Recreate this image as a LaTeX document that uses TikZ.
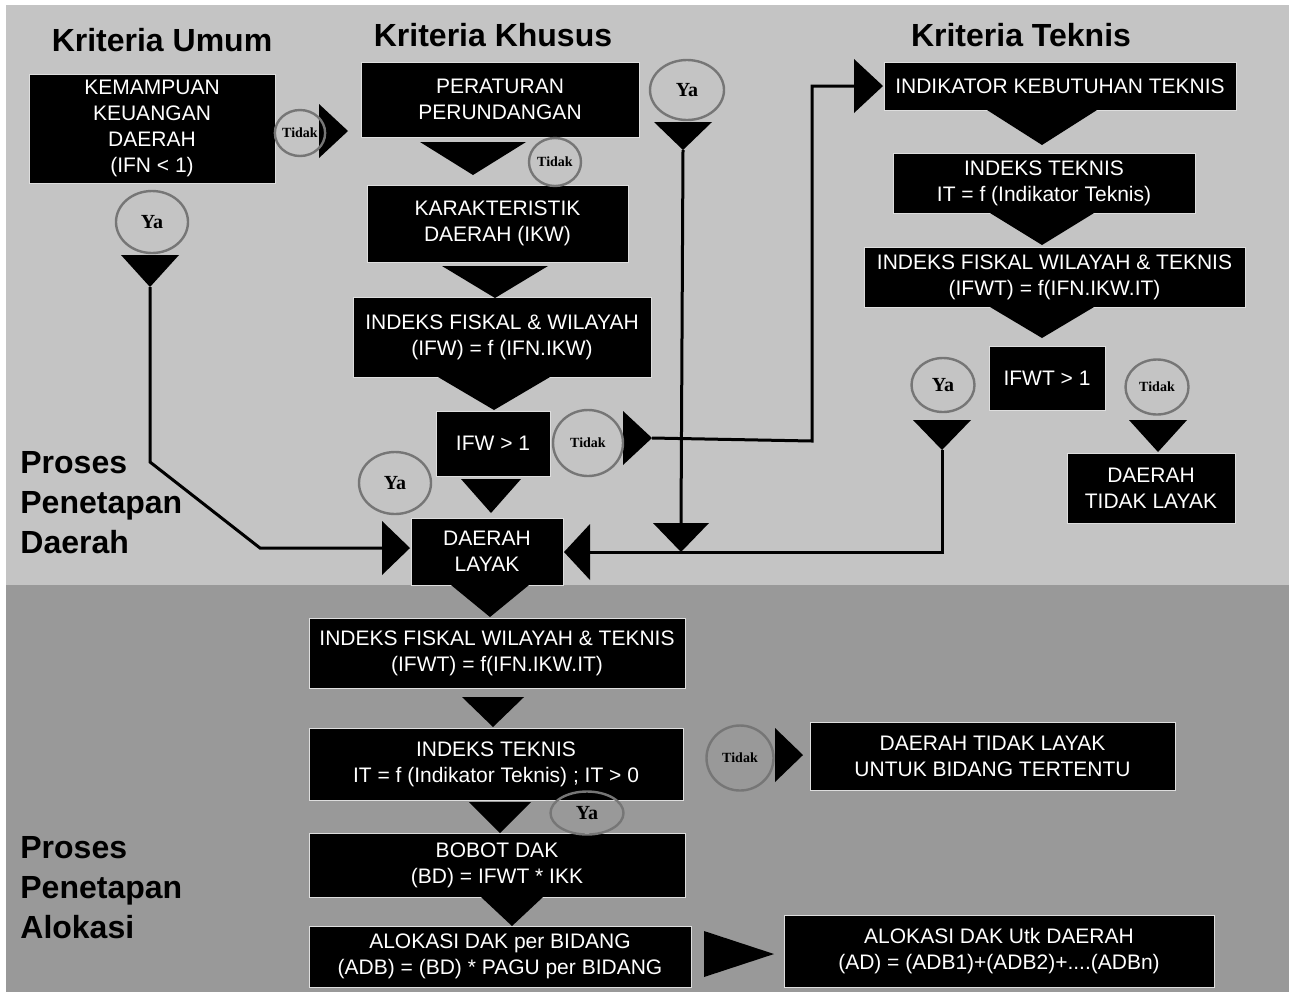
\documentclass[tikz,border=0pt]{standalone}
\usepackage{fontspec}
\setmainfont{Liberation Sans}
\newfontfamily\labelfam{Liberation Serif}
\usetikzlibrary{shapes.geometric}
\definecolor{bgtop}{RGB}{196,196,196}
\definecolor{bgbot}{RGB}{153,153,153}
\definecolor{ringgray}{RGB}{118,118,118}
\definecolor{boxedge}{RGB}{222,222,222}
\tikzset{
    flow/.style={x=0.5pt,y=-0.5pt},
    box/.style={draw=boxedge,line width=0.5pt,fill=black,text=white,align=center,inner sep=0pt,font=\fontsize{10.5}{13}\selectfont},
    boxsize/.style 2 args={minimum width=#1*0.5pt,minimum height=#2*0.5pt},
    heading/.style={font=\fontsize{16}{19}\selectfont\bfseries},
    stage/.style={align=left,anchor=west,inner sep=0pt,font=\fontsize{16}{20}\selectfont\bfseries},
    answer/.style={ellipse,draw=ringgray,line width=1.2pt,inner sep=0pt,font=\labelfam\bfseries\fontsize{10}{12}\selectfont},
    ya/.style={answer},
    tidak/.style={answer,font=\labelfam\bfseries\fontsize{7}{8}\selectfont},
    link/.style={line width=1.5pt,line join=miter}
}
% name, apex x, top y, half width, height
\newcommand{\tridown}[5]{%
    \coordinate (#1-top) at (#2,#3);
    \fill ({#2-#4},#3) -- ({#2+#4},#3) -- (#2,{#3+#5}) coordinate (#1) -- cycle;}
% name, base x, mid y, half height, length
\newcommand{\triright}[5]{%
    \coordinate (#1-base) at (#2,#3);
    \fill (#2,{#3-#4}) -- ({#2+#5},#3) coordinate (#1) -- (#2,{#3+#4}) -- cycle;}
\newcommand{\trileft}[5]{%
    \coordinate (#1-base) at (#2,#3);
    \fill (#2,{#3-#4}) -- ({#2-#5},#3) coordinate (#1) -- (#2,{#3+#4}) -- cycle;}

\begin{document}
\begin{tikzpicture}[flow]
    \useasboundingbox[fill=white] (0,0) rectangle (1289,992);
    \fill[bgtop] (6,5) rectangle (1289,585);
    \fill[bgbot] (6,585) rectangle (1289,992);

    \node[heading] (hUmum) at (162,40) {Kriteria Umum};
    \node[heading] (hKhusus) at (493,35) {Kriteria Khusus};
    \node[heading] (hTeknis) at (1021,35) {Kriteria Teknis};
    \node[stage] (sDaerah) at (20,503) {Proses\\Penetapan\\Daerah};
    \node[stage] (sAlokasi) at (20,888) {Proses\\Penetapan\\Alokasi};

    % penetapan daerah
    \node[box,boxsize={246}{109}] (ifn) at (152,128.5) {KEMAMPUAN\\KEUANGAN\\DAERAH\\(IFN < 1)};
    \node[box,boxsize={278}{75}] (atur) at (500,99.5) {PERATURAN\\PERUNDANGAN};
    \node[box,boxsize={261}{77}] (ikw) at (497.5,223.5) {KARAKTERISTIK\\DAERAH (IKW)};
    \node[box,boxsize={298}{80}] (ifw) at (502,337) {INDEKS FISKAL \& WILAYAH\\(IFW) = f (IFN.IKW)};
    \node[box,boxsize={114}{65}] (ifwcek) at (493,443.5) {IFW > 1};
    \node[box,boxsize={152}{67}] (layak) at (487,551.5) {DAERAH\\LAYAK};
    \node[box,boxsize={352}{48}] (indik) at (1060,86) {INDIKATOR KEBUTUHAN TEKNIS};
    \node[box,boxsize={302}{60}] (it) at (1044,183) {INDEKS TEKNIS\\IT = f (Indikator Teknis)};
    \node[box,boxsize={381}{60}] (ifwt) at (1054.5,277) {INDEKS FISKAL WILAYAH \& TEKNIS\\(IFWT) = f(IFN.IKW.IT)};
    \node[box,boxsize={116}{64}] (ifwtcek) at (1047,378) {IFWT > 1};
    \node[box,boxsize={168}{70}] (tlayak) at (1151,488) {DAERAH\\TIDAK LAYAK};

    % penetapan alokasi
    \node[box,boxsize={376}{70}] (ifwtb) at (497,653) {INDEKS FISKAL WILAYAH \& TEKNIS\\(IFWT) = f(IFN.IKW.IT)};
    \node[box,boxsize={374}{72}] (itb) at (496,764) {INDEKS TEKNIS\\IT = f (Indikator Teknis) ; IT > 0};
    \node[box,boxsize={365}{68}] (tbidang) at (992.5,756) {DAERAH TIDAK LAYAK\\UNTUK BIDANG TERTENTU};
    \node[box,boxsize={376}{64}] (bobot) at (497,865) {BOBOT DAK\\(BD) = IFWT * IKK};
    \node[box,boxsize={382}{61}] (adb) at (500,956.5) {ALOKASI DAK per BIDANG\\(ADB) = (BD) * PAGU per BIDANG};
    \node[box,boxsize={430}{72}] (ad) at (999,951) {ALOKASI DAK Utk DAERAH\\(AD) = (ADB1)+(ADB2)+....(ADBn)};

    \tridown{aAtur}{473}{142}{53}{33}
    \tridown{aIkw}{495}{266}{53}{32}
    \tridown{aIfw}{494}{377}{56}{33}
    \tridown{aIfwYa}{491}{479}{30}{34}
    \tridown{aIfnYa}{150}{255}{29}{32}
    \tridown{aAturYa}{683}{122}{29}{28}
    \tridown{aLayakTop}{681}{523}{28}{29}
    \tridown{aIndik}{1042}{110}{55}{35}
    \tridown{aIt}{1042}{213}{52}{32}
    \tridown{aIfwt}{1042}{307}{52}{31}
    \tridown{aIfwtYa}{942}{420}{29}{30}
    \tridown{aIfwtNo}{1158}{420}{29}{32}
    \tridown{aLayak}{490}{585}{39}{32}
    \tridown{aIfwtb}{493}{697}{31}{30}
    \tridown{aItb}{500}{802}{31}{31}
    \tridown{aBobot}{512}{897}{31}{29}
    \triright{aIfnNo}{319}{131}{27}{29}
    \triright{aIfwNo}{623}{438}{27}{29}
    \triright{aIndikIn}{854}{86}{27}{29}
    \triright{aItbNo}{775}{755}{27}{28}
    \triright{aAdb}{704}{954}{23}{70}
    \triright{aLayakL}{382}{548}{27}{28}
    \trileft{aLayakR}{590}{552}{28}{26}

    \draw[link] (aIfnYa) -- (150,462) -- (260,548) -- (aLayakL-base);
    \draw[link] (aIfwNo) -- (812,441) -- (812,86) -- (aIndikIn-base);
    \draw[link] (aAturYa) -- (aLayakTop-top);
    \draw[link] (aIfwtYa) -- (942,552) -- (aLayakR-base);

    \node[tidak,boxsize={44}{46}] (nIfn) at (300,133) {Tidak};
    \node[tidak,boxsize={52}{48}] (nAtur) at (555,162) {Tidak};
    \node[tidak,boxsize={70}{66}] (nIfw) at (588,443) {Tidak};
    \node[tidak,boxsize={63}{55}] (nIfwt) at (1157,387) {Tidak};
    \node[tidak,boxsize={67}{65}] (nItb) at (740,758) {Tidak};
    \node[ya,boxsize={72}{62}] (yIfn) at (152,222) {Ya};
    \node[ya,boxsize={74}{60}] (yAtur) at (687,90) {Ya};
    \node[ya,boxsize={72}{62}] (yIfw) at (395,483) {Ya};
    \node[ya,boxsize={63}{54}] (yIfwt) at (943,385) {Ya};
    \node[ya,boxsize={73}{43}] (yItb) at (587,813) {Ya};
\end{tikzpicture}
\end{document}
